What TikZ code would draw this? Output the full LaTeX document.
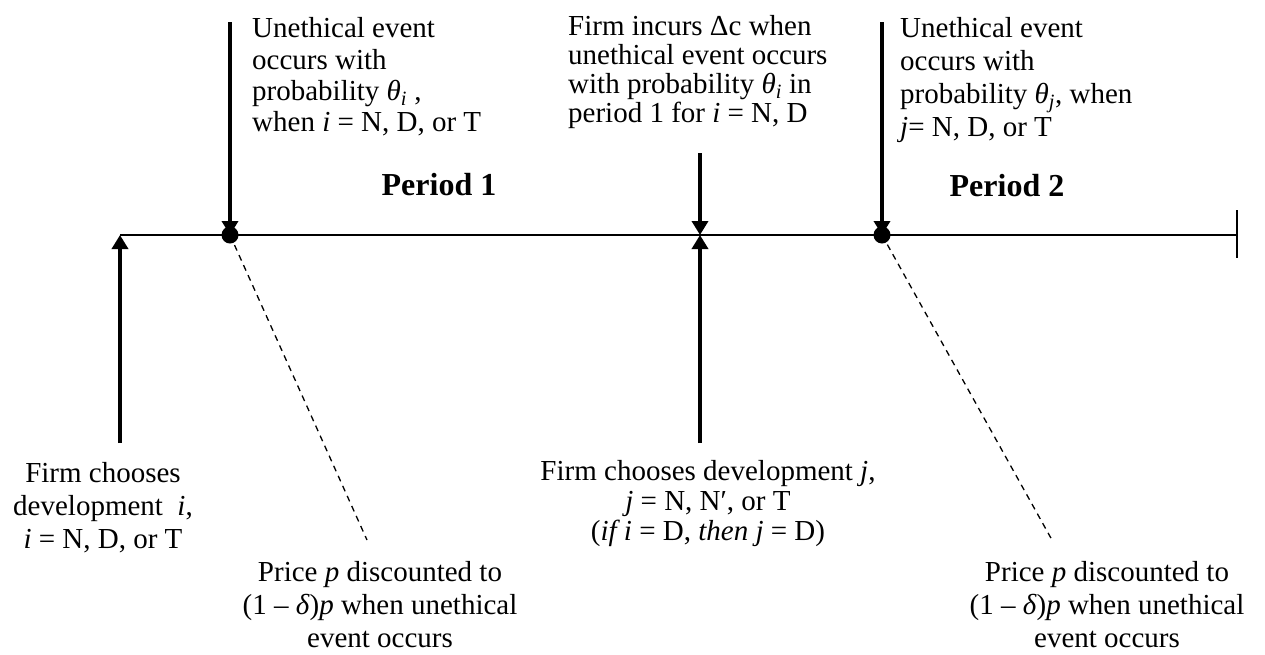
\documentclass[tikz,border=0pt]{standalone}
\usepackage{fontspec}
\setmainfont{Liberation Serif}
\usetikzlibrary{arrows.meta}
\tikzset{
  body/.style={font=\fontsize{29}{33}\selectfont, inner sep=0pt},
  timeline/.style={line width=2.6pt},
  bigarrow/.style={line width=4pt, -{Triangle[length=14pt,width=16pt]}},
  eventdot/.style={circle, fill=black, inner sep=0pt, minimum size=17pt},
  guide/.style={dashed, line width=1.3pt, dash pattern=on 6pt off 5pt},
  periodlabel/.style={font=\fontsize{32}{36}\selectfont\bfseries, inner sep=0pt, anchor=base}
}
\begin{document}
\begin{tikzpicture}[x=1pt,y=-1pt]
\useasboundingbox (0,0) rectangle (1265,654);
% timeline points
\coordinate (t0) at (120,235);
\coordinate (e1) at (230,235);
\coordinate (mid) at (700,235);
\coordinate (e2) at (882,235);
\coordinate (tend) at (1237,235);
\coordinate (tickA) at (1237,210);
\coordinate (tickB) at (1237,258);
% arrow starts
\coordinate (s0) at (120,443);
\coordinate (s1) at (230,22);
\coordinate (smd) at (700,153);
\coordinate (smu) at (700,443);
\coordinate (s2) at (882,22);
% dashed ends
\coordinate (g1) at (367,540);
\coordinate (g2) at (1052,540);

\draw[timeline] (t0) -- (tend);
\draw[timeline] (tickA) -- (tickB);

\draw[bigarrow] (s0) -- (t0);
\draw[bigarrow] (s1) -- (e1);
\draw[bigarrow] (smd) -- (mid);
\draw[bigarrow] (smu) -- (mid);
\draw[bigarrow] (s2) -- (e2);

\node[eventdot] (d1) at (e1) {};
\node[eventdot] (d2) at (e2) {};
\draw[guide] (d1.center) -- (g1);
\draw[guide] (d2.center) -- (g2);

% top texts
\node[body, anchor=north west, align=left] (ev1) at (252,17)
  {Unethical event\\[-1pt] occurs with\\[-2pt] probability \textit{θ\textsubscript{i}} ,\\[-2pt] when \textit{i} = N, D, or T};
\node[body, anchor=north west, align=left, font=\fontsize{29}{29}\selectfont] (cost) at (568,15)
  {Firm incurs Δc when\\ unethical event occurs\\ with probability \textit{θ\textsubscript{i}} in\\ period 1 for \textit{i} = N, D};
\node[body, anchor=north west, align=left] (ev2) at (900,17)
  {Unethical event\\ occurs with\\ probability \textit{θ\textsubscript{j}}, when\\ \textit{j}= N, D, or T};

\node[periodlabel] (p1) at (439,195) {Period 1};
\node[periodlabel] (p2) at (1007,196) {Period 2};

% bottom texts
\node[body, anchor=north, align=center] (ch1) at (103,462)
  {Firm chooses\\ development~ \textit{i},\\ \textit{i} = N, D, or T};
\node[body, anchor=north, align=center, font=\fontsize{29}{30}\selectfont] (ch2) at (708,460)
  {Firm chooses development \textit{j},\\ \textit{j} = N, N′, or T\\ (\textit{if i} = D, \textit{then j} = D)};
\node[body, anchor=north, align=center] (pr1) at (380,561)
  {Price \textit{p} discounted to\\ (1 – \textit{δ})\textit{p} when unethical\\ event occurs};
\node[body, anchor=north, align=center] (pr2) at (1107,561)
  {Price \textit{p} discounted to\\ (1 – \textit{δ})\textit{p} when unethical\\ event occurs};
\end{tikzpicture}
\end{document}
